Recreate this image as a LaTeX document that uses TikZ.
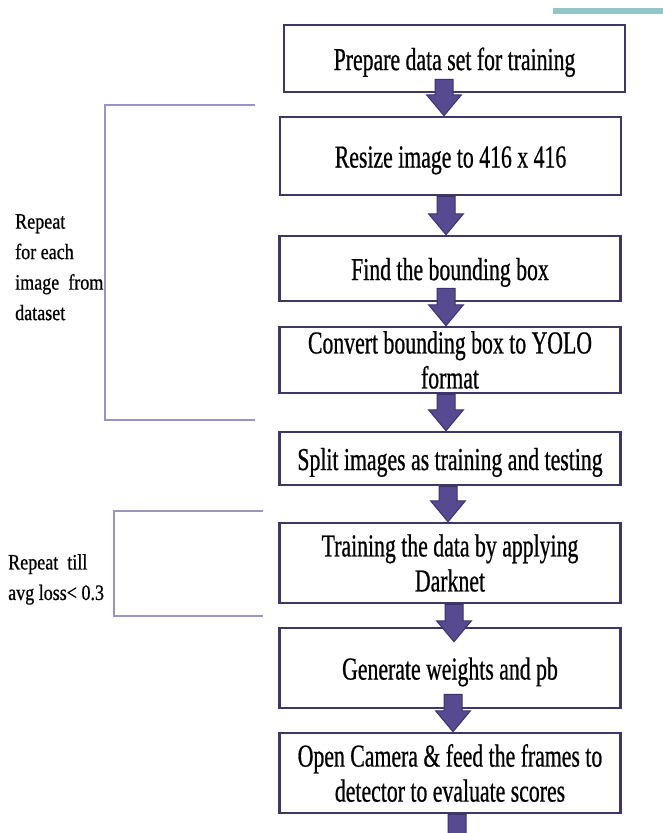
\documentclass[tikz,border=0pt]{standalone}
\usepackage{fontspec}
\setmainfont{Liberation Serif}[FakeStretch=0.68,FakeBold=0.6]
\newfontfamily\sidefont{Liberation Serif}[FakeStretch=0.82,FakeBold=0.7]
\usetikzlibrary{calc}
\definecolor{boxline}{HTML}{3D3768}
\definecolor{arrowfill}{HTML}{574A91}
\definecolor{arrowline}{HTML}{3B336B}
\definecolor{bracketc}{HTML}{9A95C6}
\definecolor{tealbar}{HTML}{93C4C6}
\tikzset{
  stepbox/.style={draw=boxline, line width=2.5pt, fill=white, inner sep=0pt,
    minimum width=341pt, align=center, font=\fontsize{32}{35}\selectfont,
    execute at begin node={\rule{0pt}{30pt}\ignorespaces}},
  farrow/.style={fill=arrowfill, draw=arrowline, line width=1pt, line join=miter},
  bracketline/.style={draw=bracketc, line width=1.6pt},
  sidetext/.style={anchor=north west, align=left, inner sep=0pt,
    font=\sidefont\fontsize{22}{30.5}\selectfont}
}
% #1 start anchor, #2 end anchor, #3 x, #4 shaft overlap, #5 tip offset
\newcommand{\flowarrow}[5]{%
  \path[farrow] let \p1=(#1), \p2=(#2) in
    ({#3pt-9pt},{\y1+#4pt}) -- ({#3pt+9pt},{\y1+#4pt}) --
    ({#3pt+9pt},{\y2-#5pt+21pt}) -- ({#3pt+17.5pt},{\y2-#5pt+21pt}) --
    ({#3pt},{\y2-#5pt}) -- ({#3pt-17.5pt},{\y2-#5pt+21pt}) --
    ({#3pt-9pt},{\y2-#5pt+21pt}) -- cycle;}
\begin{document}
\begin{tikzpicture}[x=1pt,y=-1pt]
\useasboundingbox (0,0) rectangle (663,833);
\clip (0,0) rectangle (663,833);
\fill[tealbar] (553,8) rectangle (663,14);

\node[stepbox, minimum width=341pt, minimum height=67pt] (b1) at (454.5,58.5) {Prepare data set for training};
\node[stepbox, minimum height=78pt] (b2) at (450.5,156) {Resize image to 416 x 416};
\node[stepbox, minimum height=65pt] (b3) at (450,268.5) {Find the bounding box};
\node[stepbox, minimum height=66pt] (b4) at (450,360) {Convert bounding box to YOLO\\format};
\node[stepbox, minimum height=53pt] (b5) at (450,458.5) {Split images as training and testing};
\node[stepbox, minimum height=80pt] (b6) at (450,563) {Training the data by applying\\Darknet};
\node[stepbox, minimum height=80pt] (b7) at (450,668) {Generate weights and pb};
\node[stepbox, minimum height=80pt] (b8) at (450,773) {Open Camera \& feed the frames to\\detector to evaluate scores};
\coordinate (endpt) at (457,860);

\flowarrow{b1.south}{b2.north}{444}{14}{0}
\flowarrow{b2.south}{b3.north}{446}{0}{0}
\flowarrow{b3.south}{b4.north}{446}{14}{0}
\flowarrow{b4.south}{b5.north}{446}{0}{0}
\flowarrow{b5.south}{b6.north}{448}{0}{0}
\flowarrow{b6.south}{b7.north}{454}{0}{15}
\flowarrow{b7.south}{b8.north}{453}{15}{0}
\flowarrow{b8.south}{endpt}{457}{0}{0}

\coordinate (k1a) at (255,105);
\coordinate (k1b) at (105,105);
\coordinate (k1c) at (105,420);
\coordinate (k1d) at (255,420);
\draw[bracketline] (k1a) -- (k1b) -- (k1c) -- (k1d);
\coordinate (k2a) at (263,511);
\coordinate (k2b) at (114,511);
\coordinate (k2c) at (114,616);
\coordinate (k2d) at (263,616);
\draw[bracketline] (k2a) -- (k2b) -- (k2c) -- (k2d);

\node[sidetext] (t1) at (15,214) {Repeat\\for each\\image \ from\\dataset};
\node[sidetext] (t2) at (8,554) {Repeat \ till\\avg loss< 0.3};
\end{tikzpicture}
\end{document}
